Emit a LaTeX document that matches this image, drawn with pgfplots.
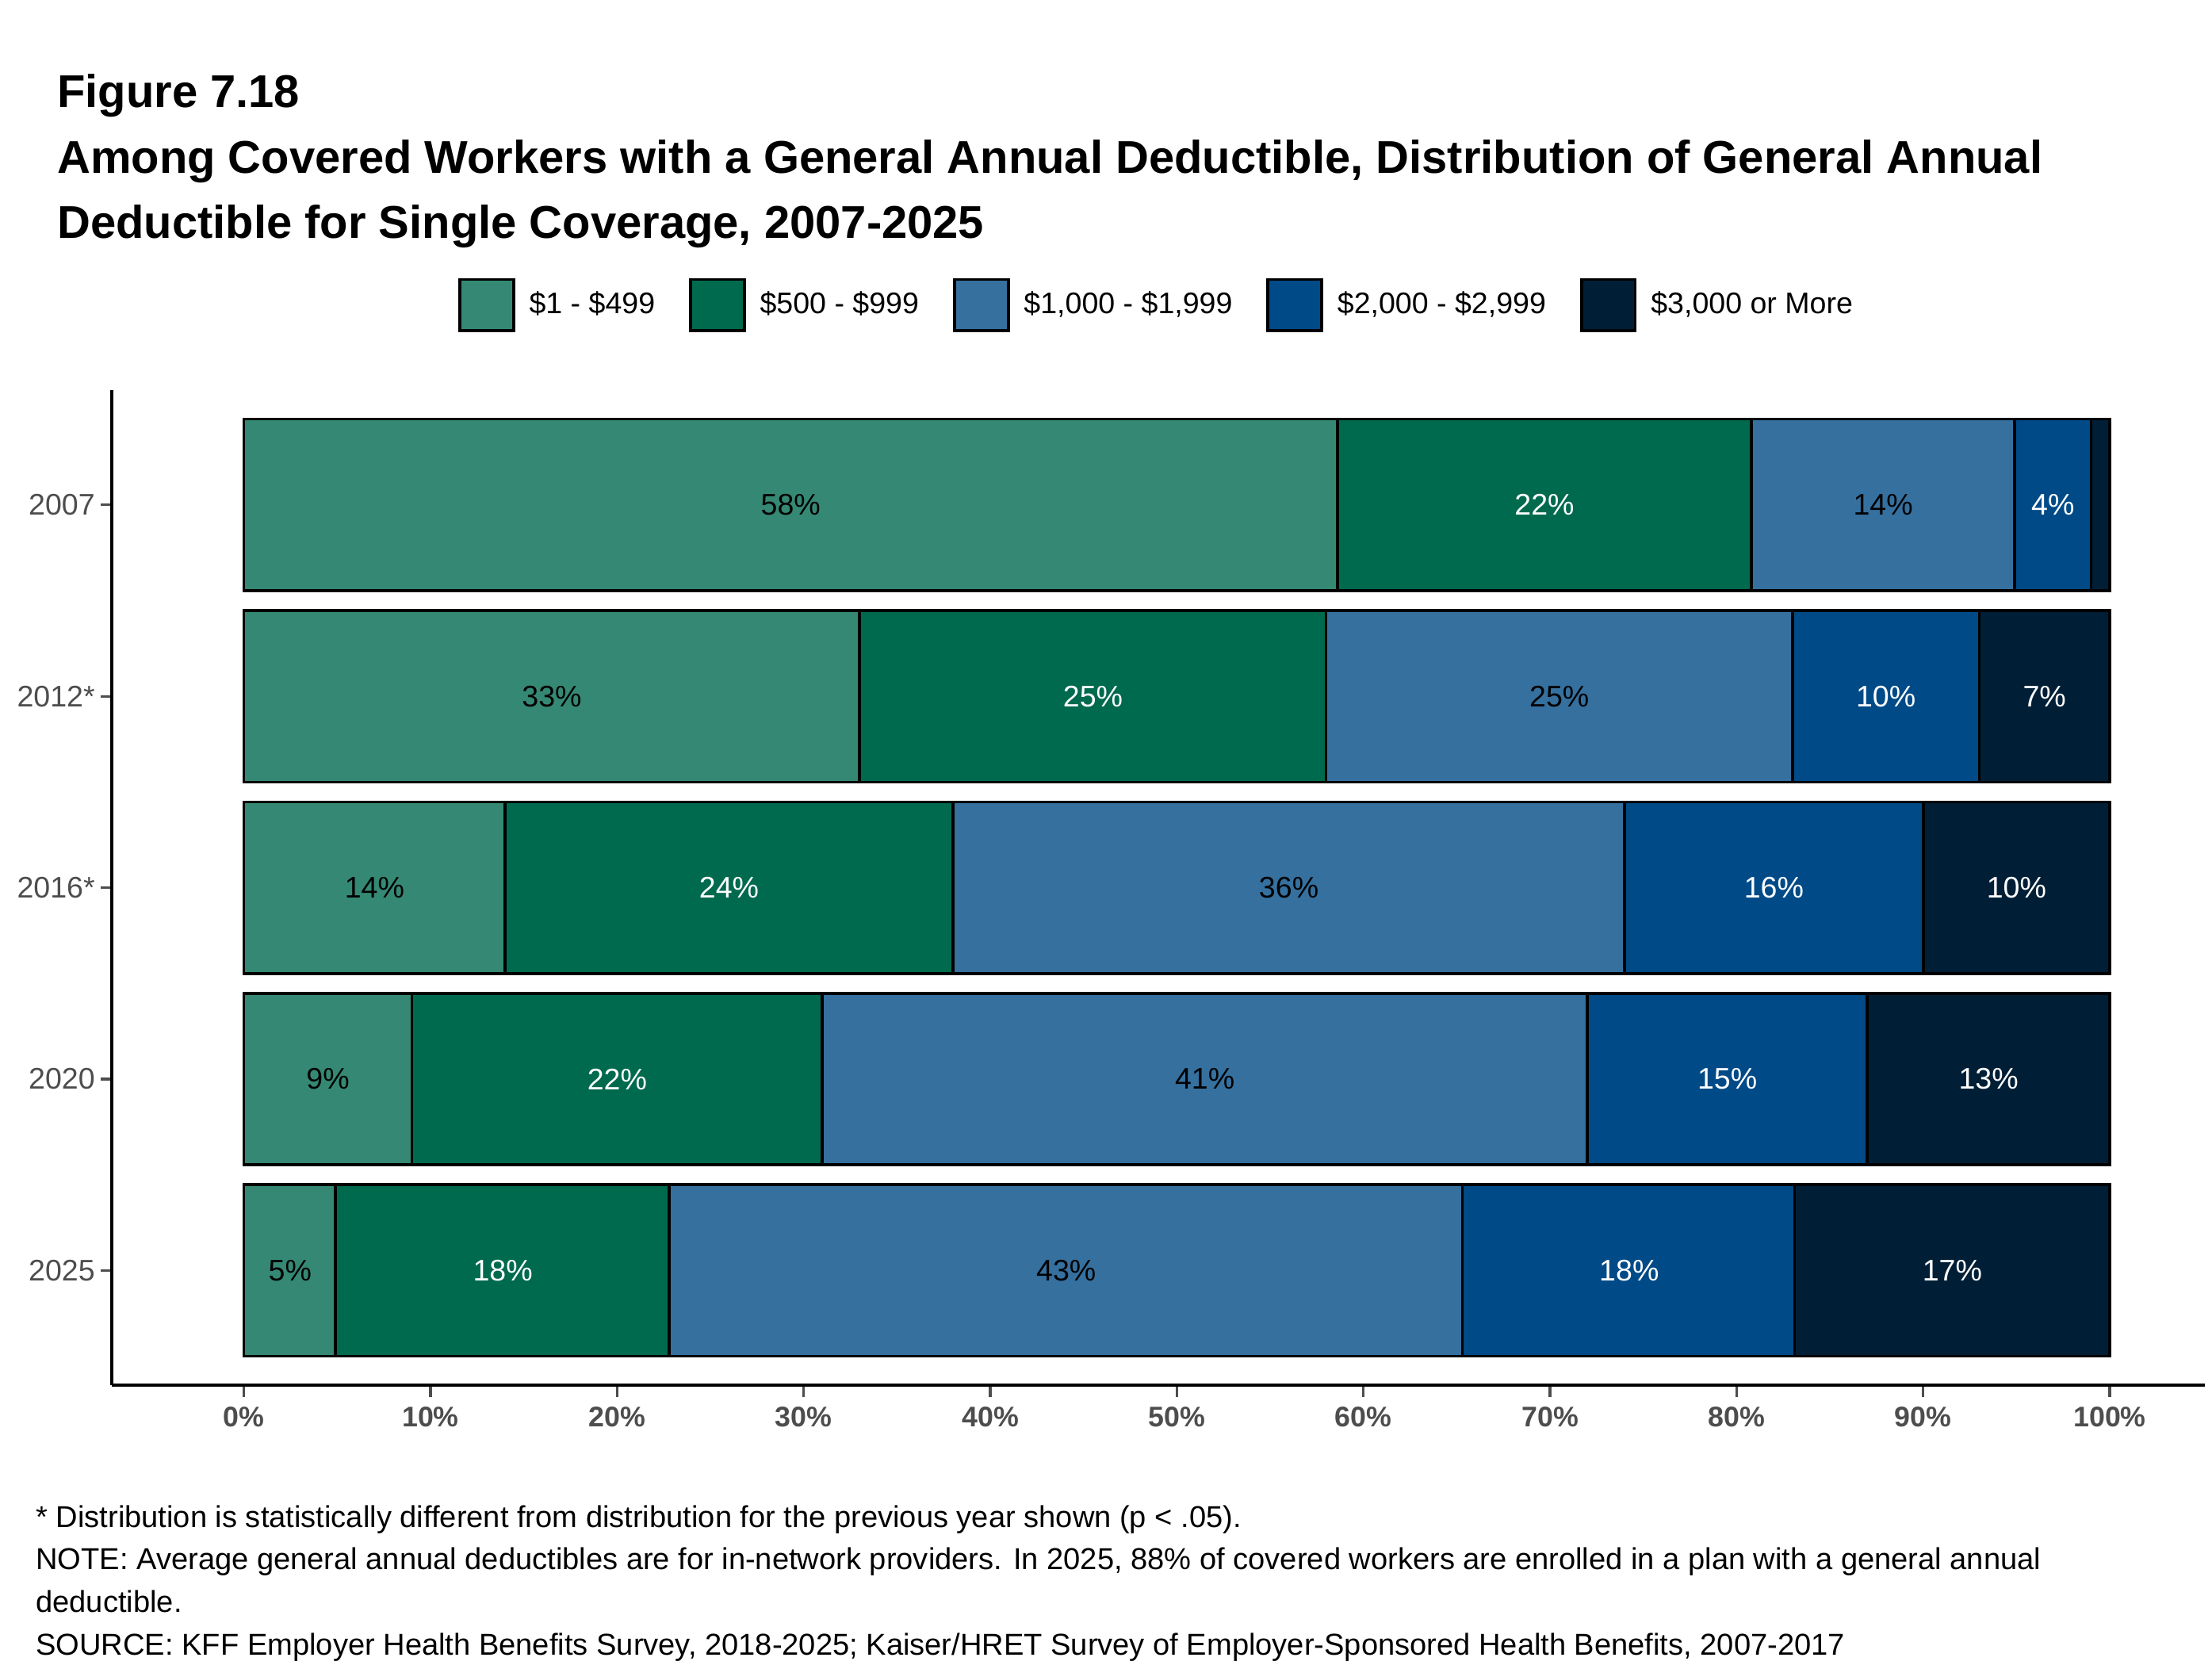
\documentclass[border=0pt]{standalone}
\usepackage{pgfplots}
\pgfplotsset{compat=1.18}
\usepackage{pgfplotstable}
\usepackage{fontspec}
\setmainfont{Liberation Sans}

\definecolor{c1}{RGB}{53,137,116}
\definecolor{c2}{RGB}{0,106,78}
\definecolor{c3}{RGB}{53,112,159}
\definecolor{c4}{RGB}{0,74,135}
\definecolor{c5}{RGB}{0,31,54}
\definecolor{tickgray}{RGB}{77,77,77}

% y index: 4=2007, 3=2012*, 2=2016*, 1=2020, 0=2025
\pgfplotstableread{
idx v
4 58.6
3 33.0
2 14.0
1 9.0
0 4.9
}\sA
\pgfplotstableread{
idx v
4 22.2
3 25.0
2 24.0
1 22.0
0 17.9
}\sB
\pgfplotstableread{
idx v
4 14.1
3 25.0
2 36.0
1 41.0
0 42.5
}\sC
\pgfplotstableread{
idx v
4 4.1
3 10.0
2 16.0
1 15.0
0 17.8
}\sD
\pgfplotstableread{
idx v
4 1.0
3 7.0
2 10.0
1 13.0
0 16.9
}\sE

% label positions (segment centres) and printed values
\pgfplotstableread{
x y lab
29.3 4 58
87.85 4 14
16.5 3 33
70.5 3 25
7.0 2 14
56.0 2 36
4.5 1 9
51.5 1 41
2.47 0 5
44.07 0 43
}\labBlack
\pgfplotstableread{
x y lab
69.7 4 22
96.95 4 4
45.5 3 25
88.0 3 10
96.5 3 7
26.0 2 24
82.0 2 16
95.0 2 10
20.0 1 22
79.5 1 15
93.5 1 13
13.87 0 18
74.24 0 18
91.56 0 17
}\labWhite

\pgfplotsset{
  legbox/.style={legend image code/.code={\draw[##1, draw=black, line width=1pt] (0pt,-9pt) rectangle (19pt,9pt);}},
  commonaxis/.style={
    scale only axis, width=738pt, height=351pt,
    at={(39.5pt,-488.5pt)}, anchor=south west,
    xmin=-7.07, xmax=105.1, ymin=-0.6, ymax=4.6,
  },
}

\begin{document}
\begin{tikzpicture}
\path[use as bounding box] (0,0) rectangle (780pt,-587pt);

\node[anchor=base west, font=\bfseries\fontsize{16.2}{19}\selectfont, inner sep=0pt] at (20pt,-38pt) {Figure 7.18};
\node[anchor=base west, font=\bfseries\fontsize{16.2}{19}\selectfont, inner sep=0pt] at (20pt,-61pt) {Among Covered Workers with a General Annual Deductible, Distribution of General Annual};
\node[anchor=base west, font=\bfseries\fontsize{16.2}{19}\selectfont, inner sep=0pt] at (20pt,-84pt) {Deductible for Single Coverage, 2007-2025};

\begin{axis}[
  commonaxis,
  xbar stacked, bar width=60.5pt,
  axis x line*=bottom, axis y line*=left,
  axis line style={line width=1.1pt, black, -},
  tick align=outside,
  major tick length=4pt,
  tick style={tickgray, line width=0.9pt},
  xtick={0,10,...,100},
  xticklabels={0\%,10\%,20\%,30\%,40\%,50\%,60\%,70\%,80\%,90\%,100\%},
  xticklabel style={font=\bfseries\fontsize{10}{12}\selectfont, text=tickgray},
  ytick={0,1,2,3,4},
  yticklabels={2025,2020,2016*,2012*,2007},
  yticklabel style={font=\fontsize{10.5}{12}\selectfont, text=tickgray, xshift=1.5pt},
  legend columns=5,
  legend style={at={(0.5,1.0855)}, anchor=center, draw=none, fill=none,
    font=\fontsize{10.5}{12}\selectfont,
    /tikz/every even column/.append style={column sep=10pt},
    /tikz/every odd column/.append style={column sep=3pt}},
]
\addplot[xbar stacked, fill=c1, draw=black, line width=1pt, legbox] table[x=v, y=idx] {\sA};
\addlegendentry{\$1 - \$499}
\addplot[xbar stacked, fill=c2, draw=black, line width=1pt, legbox] table[x=v, y=idx] {\sB};
\addlegendentry{\$500 - \$999}
\addplot[xbar stacked, fill=c3, draw=black, line width=1pt, legbox] table[x=v, y=idx] {\sC};
\addlegendentry{\$1,000 - \$1,999}
\addplot[xbar stacked, fill=c4, draw=black, line width=1pt, legbox] table[x=v, y=idx] {\sD};
\addlegendentry{\$2,000 - \$2,999}
\addplot[xbar stacked, fill=c5, draw=black, line width=1pt, legbox] table[x=v, y=idx] {\sE};
\addlegendentry{\$3,000 or More}
\end{axis}

\begin{axis}[commonaxis, hide axis, /pgf/number format/assume math mode=true]
\addplot[draw=none, mark=none, point meta=explicit,
  nodes near coords={\pgfmathprintnumber[fixed,precision=0,assume math mode=true]{\pgfplotspointmeta}\%},
  nodes near coords align={center},
  every node near coord/.append style={anchor=center, text=black, font=\fontsize{10.5}{12}\selectfont}]
  table[x=x, y=y, meta=lab] {\labBlack};
\addplot[draw=none, mark=none, point meta=explicit,
  nodes near coords={\pgfmathprintnumber[fixed,precision=0,assume math mode=true]{\pgfplotspointmeta}\%},
  nodes near coords align={center},
  every node near coord/.append style={anchor=center, text=white, font=\fontsize{10.5}{12}\selectfont}]
  table[x=x, y=y, meta=lab] {\labWhite};
\end{axis}

\begin{scope}[every node/.style={anchor=base west, inner sep=0pt, font=\fontsize{10.65}{12}\selectfont}]
\node at (12.5pt,-538.5pt) {* Distribution is statistically different from distribution for the previous year shown (p < .05).};
\node at (12.5pt,-553.5pt) {NOTE: Average general annual deductibles are for in-network providers. In 2025, 88\% of covered workers are enrolled in a plan with a general annual};
\node at (12.5pt,-568.5pt) {deductible.};
\node at (12.5pt,-583.5pt) {SOURCE: KFF Employer Health Benefits Survey, 2018-2025; Kaiser/HRET Survey of Employer-Sponsored Health Benefits, 2007-2017};
\end{scope}
\end{tikzpicture}
\end{document}
